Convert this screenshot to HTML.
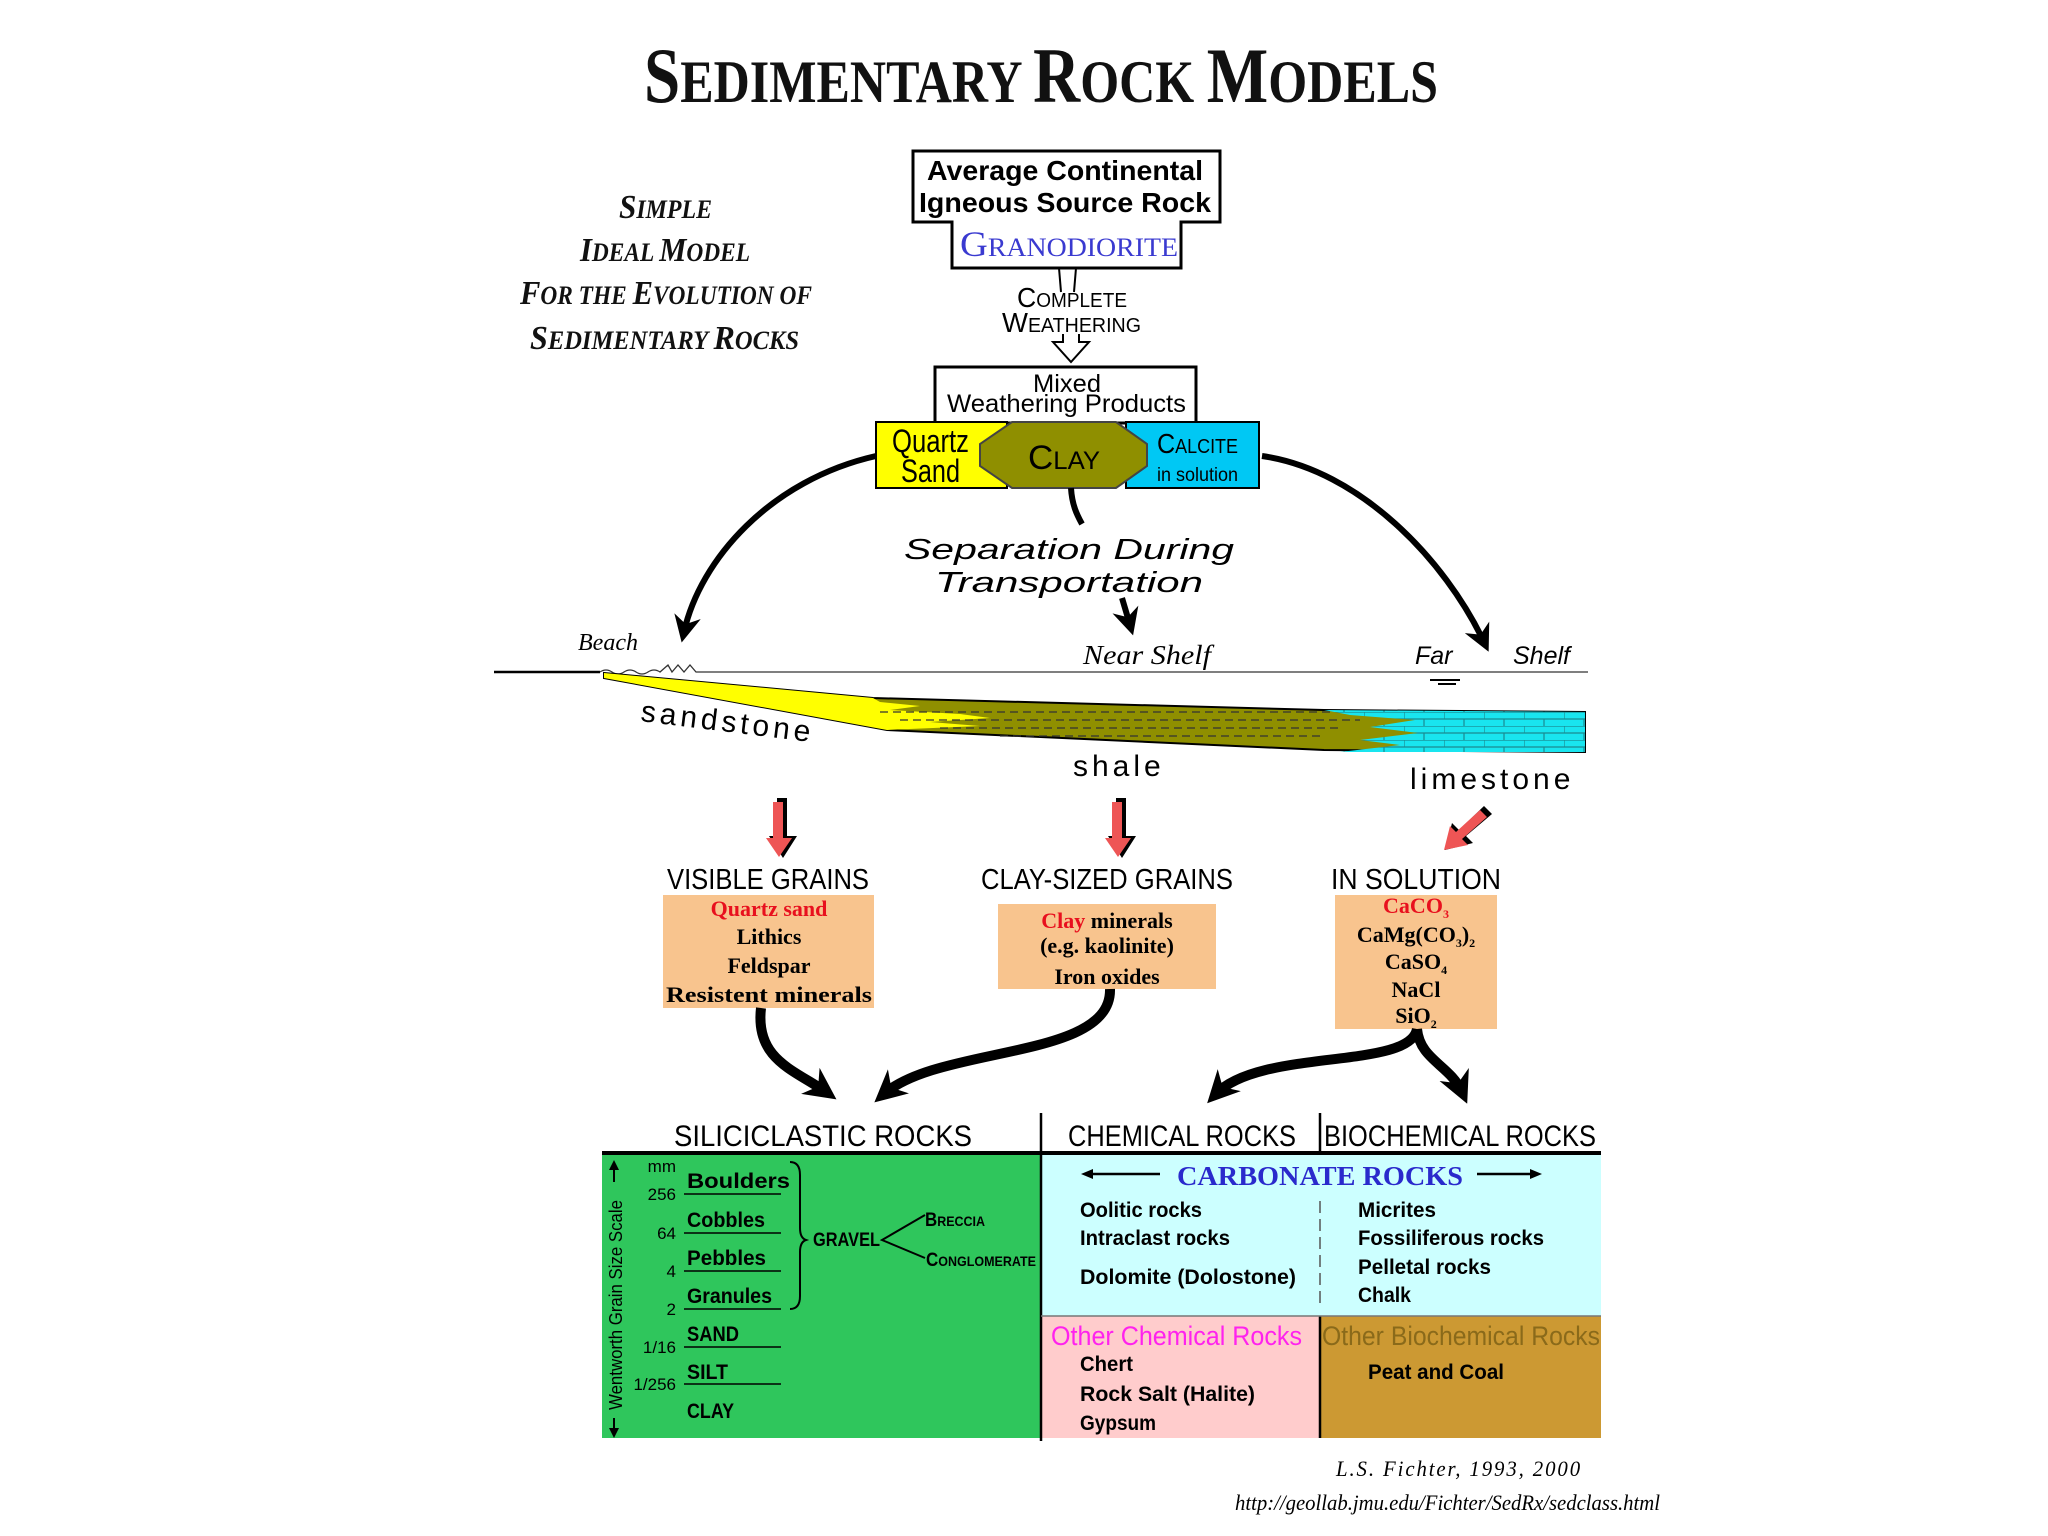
<!DOCTYPE html>
<html><head><meta charset="utf-8"><style>
html,body{margin:0;padding:0;background:#fff;}
svg{display:block;}
.sans{font-family:"Liberation Sans",sans-serif;}
.serif{font-family:"Liberation Serif",serif;}
</style></head><body>
<svg width="2048" height="1536" viewBox="0 0 2048 1536" xmlns="http://www.w3.org/2000/svg">
<defs>
<marker id="ah" viewBox="0 0 10 10" refX="6" refY="5" markerWidth="4.5" markerHeight="4.5" orient="auto" markerUnits="strokeWidth">
<path d="M0,0 L10,5 L0,10 L3,5 z" fill="#000"/></marker>
<marker id="ah2" viewBox="0 0 10 10" refX="6" refY="5" markerWidth="3.2" markerHeight="3.2" orient="auto" markerUnits="strokeWidth">
<path d="M0,0 L10,5 L0,10 L3,5 z" fill="#000"/></marker>
<pattern id="brick" x="1324" y="712" width="40" height="14" patternUnits="userSpaceOnUse">
<rect width="40" height="14" fill="#19e5ef"/>
<path d="M0,0 H40 M0,7 H40 M0,0 V7 M20,7 V14" stroke="#1a8a90" stroke-width="1.2"/></pattern>
</defs>

<!-- Title -->
<text x="644" y="102" textLength="794" lengthAdjust="spacingAndGlyphs" class="serif" font-weight="bold" fill="#111" style="font-size:60px"><tspan style="font-size:78px">S</tspan>EDIMENTARY <tspan style="font-size:78px">R</tspan>OCK <tspan style="font-size:78px">M</tspan>ODELS</text>

<!-- left italic block -->
<g class="serif" font-weight="bold" font-style="italic" fill="#111">
<text x="619" y="218" textLength="93" lengthAdjust="spacingAndGlyphs" style="font-size:26px"><tspan style="font-size:34px">S</tspan>IMPLE</text>
<text x="580" y="261" textLength="170" lengthAdjust="spacingAndGlyphs" style="font-size:26px"><tspan style="font-size:34px">I</tspan>DEAL <tspan style="font-size:34px">M</tspan>ODEL</text>
<text x="520" y="304" textLength="292" lengthAdjust="spacingAndGlyphs" style="font-size:26px"><tspan style="font-size:34px">F</tspan>OR THE <tspan style="font-size:34px">E</tspan>VOLUTION OF</text>
<text x="530" y="349" textLength="269" lengthAdjust="spacingAndGlyphs" style="font-size:26px"><tspan style="font-size:34px">S</tspan>EDIMENTARY <tspan style="font-size:34px">R</tspan>OCKS</text>
</g>

<!-- source box -->
<path d="M913,151 H1220 V222 H1181 V268 H952 V222 H913 Z" fill="#fff" stroke="#000" stroke-width="3"/>
<text x="927" y="180" textLength="276" lengthAdjust="spacingAndGlyphs" class="sans" font-weight="bold" style="font-size:28px">Average Continental</text>
<text x="919" y="212" textLength="292" lengthAdjust="spacingAndGlyphs" class="sans" font-weight="bold" style="font-size:28px">Igneous Source Rock</text>
<text x="960" y="256" textLength="218" lengthAdjust="spacingAndGlyphs" class="serif" fill="#3a3ad0" style="font-size:26px"><tspan style="font-size:36px">G</tspan>RANODIORITE</text>
<path d="M1059,268 L1061,292 M1076,268 L1074,292" stroke="#000" stroke-width="2"/>
<text x="1017" y="307" textLength="110" lengthAdjust="spacingAndGlyphs" class="sans" style="font-size:20px"><tspan style="font-size:28px">C</tspan>OMPLETE</text>
<text x="1002" y="332" textLength="139" lengthAdjust="spacingAndGlyphs" class="sans" style="font-size:20px"><tspan style="font-size:28px">W</tspan>EATHERING</text>
<path d="M1063,334 V342 H1053 L1071,362 L1089,342 H1079 V334" fill="#fff" stroke="#000" stroke-width="2"/>

<!-- mixed box -->
<rect x="935" y="367" width="261" height="56" fill="#fff" stroke="#000" stroke-width="3"/>
<text x="1033" y="392" textLength="68" lengthAdjust="spacingAndGlyphs" class="sans" style="font-size:25px">Mixed</text>
<text x="947" y="412" textLength="239" lengthAdjust="spacingAndGlyphs" class="sans" style="font-size:25px">Weathering Products</text>

<rect x="876" y="422" width="131" height="66" fill="#ffff00" stroke="#000" stroke-width="2"/>
<rect x="1126" y="422" width="133" height="66" fill="#00c8f4" stroke="#000" stroke-width="2"/>
<polygon points="1012,422 1116,422 1147,444 1147,466 1116,488 1012,488 980,466 980,444" fill="#8f8f00" stroke="#444" stroke-width="2"/>
<text x="892" y="452" textLength="77" lengthAdjust="spacingAndGlyphs" class="sans" style="font-size:32px">Quartz</text>
<text x="901" y="482" textLength="59" lengthAdjust="spacingAndGlyphs" class="sans" style="font-size:32px">Sand</text>
<text x="1028" y="469" textLength="72" lengthAdjust="spacingAndGlyphs" class="sans" style="font-size:25px"><tspan style="font-size:34px">C</tspan>LAY</text>
<text x="1157" y="453" textLength="81" lengthAdjust="spacingAndGlyphs" class="sans" style="font-size:20px"><tspan style="font-size:28px">C</tspan>ALCITE</text>
<text x="1157" y="481" textLength="81" lengthAdjust="spacingAndGlyphs" class="sans" style="font-size:19px">in solution</text>

<!-- transport arrows -->
<path d="M876,456 C770,480 700,560 684,632" fill="none" stroke="#000" stroke-width="6" marker-end="url(#ah)"/>
<path d="M1262,456 C1360,470 1445,560 1484,642" fill="none" stroke="#000" stroke-width="6" marker-end="url(#ah)"/>
<path d="M1071,488 C1072,505 1077,515 1082,524" fill="none" stroke="#000" stroke-width="6"/>
<path d="M1122,598 L1130,625" fill="none" stroke="#000" stroke-width="6" marker-end="url(#ah)"/>
<text x="904" y="559" textLength="330" lengthAdjust="spacingAndGlyphs" class="sans" font-style="italic" style="font-size:29px">Separation During</text>
<text x="935" y="592" textLength="268" lengthAdjust="spacingAndGlyphs" class="sans" font-style="italic" style="font-size:29px">Transportation</text>

<!-- seafloor labels -->
<text x="578" y="650" class="serif" font-style="italic" style="font-size:24px">Beach</text>
<text x="1083" y="664" textLength="128" lengthAdjust="spacingAndGlyphs" class="serif" font-style="italic" style="font-size:27px">Near Shelf</text>
<text x="1415" y="664" class="sans" font-style="italic" style="font-size:25px">Far</text>
<text x="1513" y="664" class="sans" font-style="italic" style="font-size:25px">Shelf</text>
<path d="M494,672 H600" stroke="#000" stroke-width="2.5"/>
<path d="M600,672 Q606,668 612,672 T624,672 T636,672 T648,672 T660,672 L668,665 L672,672 L678,665 L684,672 L690,665 L696,672 T708,672 T720,672 T732,672 T744,672 T756,672 T768,672 T780,672 T792,672 T804,672 T816,672 T828,672 T840,672 T852,672 T864,672 T876,672 T888,672 T900,672 T912,672 T924,672 T936,672 T948,672 T960,672 T972,672 T984,672 T996,672 T1008,672 T1020,672 T1032,672 T1044,672 T1056,672 T1068,672 T1080,672 T1092,672 T1104,672 T1116,672 T1128,672 T1140,672 T1152,672 T1164,672 T1176,672 T1188,672 T1200,672 T1212,672 T1224,672 T1236,672 T1248,672 T1260,672 T1272,672 T1284,672 T1296,672 T1308,672 T1320,672 T1332,672 T1344,672 T1356,672 T1368,672 T1380,672 T1392,672 T1404,672 T1416,672 T1428,672 T1440,672 T1452,672 T1464,672 T1476,672 T1488,672 T1500,672 T1512,672 T1524,672 T1536,672 T1548,672 T1560,672 T1572,672 T1588,672" fill="none" stroke="#333" stroke-width="1.3"/>
<path d="M1430,680 H1460 M1438,684 H1456" stroke="#000" stroke-width="2"/>

<!-- wedge -->
<polygon points="604,673 873,698 1324,710 1585,712 1585,752 1324,750 887,730 604,678" fill="#8f8f00" stroke="#000" stroke-width="2"/>
<polygon points="604,673 873,698 880,702 920,706 890,710 960,714 990,718 930,722 980,726 887,730 604,678" fill="#ffff00"/>
<polygon points="1324,710 1585,712 1585,752 1340,752 1400,745 1360,740 1418,733 1370,727 1415,720 1350,715" fill="url(#brick)"/>
<path d="M880,712 H1330 M900,720 H1360 M940,728 H1340 M1000,736 H1320" stroke="#333" stroke-width="1.2" stroke-dasharray="8 5"/>
<text x="640" y="721" class="sans" transform="rotate(7 640 721)" style="font-size:30px;letter-spacing:4px">sandstone</text>
<text x="1073" y="776" class="sans" style="font-size:30px;letter-spacing:4px">shale</text>
<text x="1410" y="789" class="sans" style="font-size:30px;letter-spacing:4px">limestone</text>

<!-- red arrows -->
<g stroke="none">
<polygon points="777,798 787,798 787,836 797,836 783,858 769,836 777,836" fill="#000"/>
<polygon points="773,802 783,802 783,838 792,838 779,857 766,838 773,838" fill="#ee5555"/>
<polygon points="1116,798 1126,798 1126,836 1136,836 1122,858 1108,836 1116,836" fill="#000"/>
<polygon points="1112,802 1122,802 1122,838 1131,838 1118,857 1105,838 1112,838" fill="#ee5555"/>
<polygon points="1484,806 1492,814 1466,836 1473,843 1445,850 1452,823 1459,830" fill="#000"/>
<polygon points="1480,810 1487,817 1462,839 1468,845 1444,850 1450,826 1456,832" fill="#ee5555"/>
</g>

<!-- grain headings -->
<g class="sans" style="font-size:29px">
<text x="667" y="889" textLength="202" lengthAdjust="spacingAndGlyphs">VISIBLE GRAINS</text>
<text x="981" y="889" textLength="252" lengthAdjust="spacingAndGlyphs">CLAY-SIZED GRAINS</text>
<text x="1331" y="889" textLength="170" lengthAdjust="spacingAndGlyphs">IN SOLUTION</text>
</g>
<rect x="663" y="895" width="211" height="113" fill="#f8c48e"/>
<rect x="998" y="904" width="218" height="85" fill="#f8c48e"/>
<rect x="1335" y="895" width="162" height="134" fill="#f8c48e"/>
<g class="serif" font-weight="bold" text-anchor="middle" style="font-size:22px">
<text x="769" y="916" fill="#e8101e">Quartz sand</text>
<text x="769" y="944">Lithics</text>
<text x="769" y="973">Feldspar</text>
<text x="769" y="1002" textLength="206" lengthAdjust="spacingAndGlyphs">Resistent minerals</text>
<text x="1107" y="928"><tspan fill="#e8101e">Clay</tspan> minerals</text>
<text x="1107" y="953">(e.g. kaolinite)</text>
<text x="1107" y="984">Iron oxides</text>
<text x="1416" y="913" fill="#e8101e">CaCO<tspan style="font-size:12px" dy="5">3</tspan></text>
<text x="1416" y="942">CaMg(CO<tspan style="font-size:12px" dy="5">3</tspan><tspan dy="-5">)</tspan><tspan style="font-size:12px" dy="5">2</tspan></text>
<text x="1416" y="969">CaSO<tspan style="font-size:12px" dy="5">4</tspan></text>
<text x="1416" y="997">NaCl</text>
<text x="1416" y="1023">SiO<tspan style="font-size:12px" dy="5">2</tspan></text>
</g>

<!-- black arrows -->
<g fill="none" stroke="#000" stroke-width="10">
<path d="M761,1008 C755,1060 795,1070 826,1092" marker-end="url(#ah2)"/>
<path d="M1110,989 C1112,1060 940,1045 884,1094" marker-end="url(#ah2)"/>
<path d="M1417,1029 C1410,1070 1260,1048 1216,1094" marker-end="url(#ah2)"/>
<path d="M1417,1029 C1420,1060 1450,1065 1462,1092" marker-end="url(#ah2)"/>
</g>

<!-- bottom table -->
<g class="sans" style="font-size:30px">
<text x="674" y="1146" textLength="298" lengthAdjust="spacingAndGlyphs">SILICICLASTIC ROCKS</text>
<text x="1068" y="1146" textLength="228" lengthAdjust="spacingAndGlyphs">CHEMICAL ROCKS</text>
<text x="1324" y="1146" textLength="272" lengthAdjust="spacingAndGlyphs">BIOCHEMICAL ROCKS</text>
</g>
<rect x="602" y="1153" width="439" height="285" fill="#2fc65c"/>
<rect x="1041" y="1153" width="560" height="163" fill="#ccffff"/>
<rect x="1041" y="1316" width="279" height="122" fill="#ffcccc"/>
<rect x="1320" y="1316" width="281" height="122" fill="#cc9933"/>
<path d="M602,1153 H1601" stroke="#000" stroke-width="4"/>
<path d="M1041,1113 V1441" stroke="#000" stroke-width="2.5"/>
<path d="M1320,1113 V1153 M1320,1316 V1438" stroke="#000" stroke-width="2.5"/>
<path d="M1320,1201 V1306" stroke="#555" stroke-width="1.5" stroke-dasharray="12 6"/>
<path d="M1041,1316 H1601" stroke="#777" stroke-width="1.5"/>

<!-- green contents -->
<text x="0" y="0" class="sans" transform="translate(622,1410) rotate(-90)" style="font-size:18px" textLength="210" lengthAdjust="spacingAndGlyphs">Wentworth Grain Size Scale</text>
<path d="M614,1164 V1182 M614,1418 V1436" stroke="#000" stroke-width="2"/>
<polygon points="614,1160 609,1170 619,1170" fill="#000"/><polygon points="614,1438 609,1428 619,1428" fill="#000"/>
<g class="sans" style="font-size:17px" text-anchor="end">
<text x="676" y="1172">mm</text><text x="676" y="1200">256</text><text x="676" y="1239">64</text><text x="676" y="1277">4</text><text x="676" y="1315">2</text><text x="676" y="1353">1/16</text><text x="676" y="1390">1/256</text>
</g>
<g stroke="#000" stroke-width="1.5">
<path d="M684,1194 H781 M684,1233 H781 M684,1271 H781 M684,1309 H781 M684,1347 H781 M684,1384 H781"/>
</g>
<g class="sans" font-weight="bold" style="font-size:21px">
<text x="687" y="1188" textLength="103" lengthAdjust="spacingAndGlyphs">Boulders</text>
<text x="687" y="1227" textLength="78" lengthAdjust="spacingAndGlyphs">Cobbles</text>
<text x="687" y="1265" textLength="79" lengthAdjust="spacingAndGlyphs">Pebbles</text>
<text x="687" y="1303" textLength="85" lengthAdjust="spacingAndGlyphs">Granules</text>
<text x="687" y="1341" textLength="52" lengthAdjust="spacingAndGlyphs">SAND</text>
<text x="687" y="1379" textLength="41" lengthAdjust="spacingAndGlyphs">SILT</text>
<text x="687" y="1418" textLength="47" lengthAdjust="spacingAndGlyphs">CLAY</text>
<text x="813" y="1246" textLength="67" lengthAdjust="spacingAndGlyphs" style="font-size:19px">GRAVEL</text>
<text x="925" y="1226" textLength="60" lengthAdjust="spacingAndGlyphs" style="font-size:14px"><tspan style="font-size:19px">B</tspan>RECCIA</text>
<text x="926" y="1266" textLength="110" lengthAdjust="spacingAndGlyphs" style="font-size:14px"><tspan style="font-size:19px">C</tspan>ONGLOMERATE</text>
</g>
<path d="M790,1162 Q800,1162 800,1175 V1228 Q800,1238 806,1240 Q800,1242 800,1252 V1296 Q800,1309 790,1309" fill="none" stroke="#000" stroke-width="2"/>
<path d="M925,1215 L882,1240 L925,1258" fill="none" stroke="#000" stroke-width="2"/>

<!-- carbonate -->
<path d="M1090,1174 H1160" stroke="#000" stroke-width="2.5"/><polygon points="1081,1174 1093,1169 1093,1179" fill="#000"/>
<path d="M1477,1174 H1535" stroke="#000" stroke-width="2.5"/><polygon points="1542,1174 1530,1169 1530,1179" fill="#000"/>
<text x="1177" y="1185" textLength="286" lengthAdjust="spacingAndGlyphs" class="serif" font-weight="bold" fill="#2a2acc" style="font-size:27px">CARBONATE ROCKS</text>
<g class="sans" font-weight="bold" style="font-size:21px">
<text x="1080" y="1217" textLength="122" lengthAdjust="spacingAndGlyphs">Oolitic rocks</text>
<text x="1080" y="1245" textLength="150" lengthAdjust="spacingAndGlyphs">Intraclast rocks</text>
<text x="1080" y="1284" textLength="216" lengthAdjust="spacingAndGlyphs">Dolomite (Dolostone)</text>
<text x="1358" y="1217" textLength="78" lengthAdjust="spacingAndGlyphs">Micrites</text>
<text x="1358" y="1245" textLength="186" lengthAdjust="spacingAndGlyphs">Fossiliferous rocks</text>
<text x="1358" y="1274" textLength="133" lengthAdjust="spacingAndGlyphs">Pelletal rocks</text>
<text x="1358" y="1302" textLength="53" lengthAdjust="spacingAndGlyphs">Chalk</text>
<text x="1080" y="1371" textLength="53" lengthAdjust="spacingAndGlyphs">Chert</text>
<text x="1080" y="1401" textLength="175" lengthAdjust="spacingAndGlyphs">Rock Salt (Halite)</text>
<text x="1080" y="1430" textLength="76" lengthAdjust="spacingAndGlyphs">Gypsum</text>
<text x="1368" y="1379" textLength="136" lengthAdjust="spacingAndGlyphs">Peat and Coal</text>
</g>
<text x="1051" y="1345" textLength="251" lengthAdjust="spacingAndGlyphs" class="sans" fill="#ff22ee" style="font-size:27px">Other Chemical Rocks</text>
<text x="1322" y="1345" textLength="278" lengthAdjust="spacingAndGlyphs" class="sans" fill="#8a6a1a" style="font-size:27px">Other Biochemical Rocks</text>

<!-- credits -->
<text x="1336" y="1476" textLength="246" lengthAdjust="spacingAndGlyphs" class="serif" font-style="italic" style="font-size:22px;letter-spacing:2px">L.S. Fichter, 1993, 2000</text>
<text x="1235" y="1510" textLength="425" lengthAdjust="spacingAndGlyphs" class="serif" font-style="italic" style="font-size:22px">http://geollab.jmu.edu/Fichter/SedRx/sedclass.html</text>
</svg>
</body></html>
